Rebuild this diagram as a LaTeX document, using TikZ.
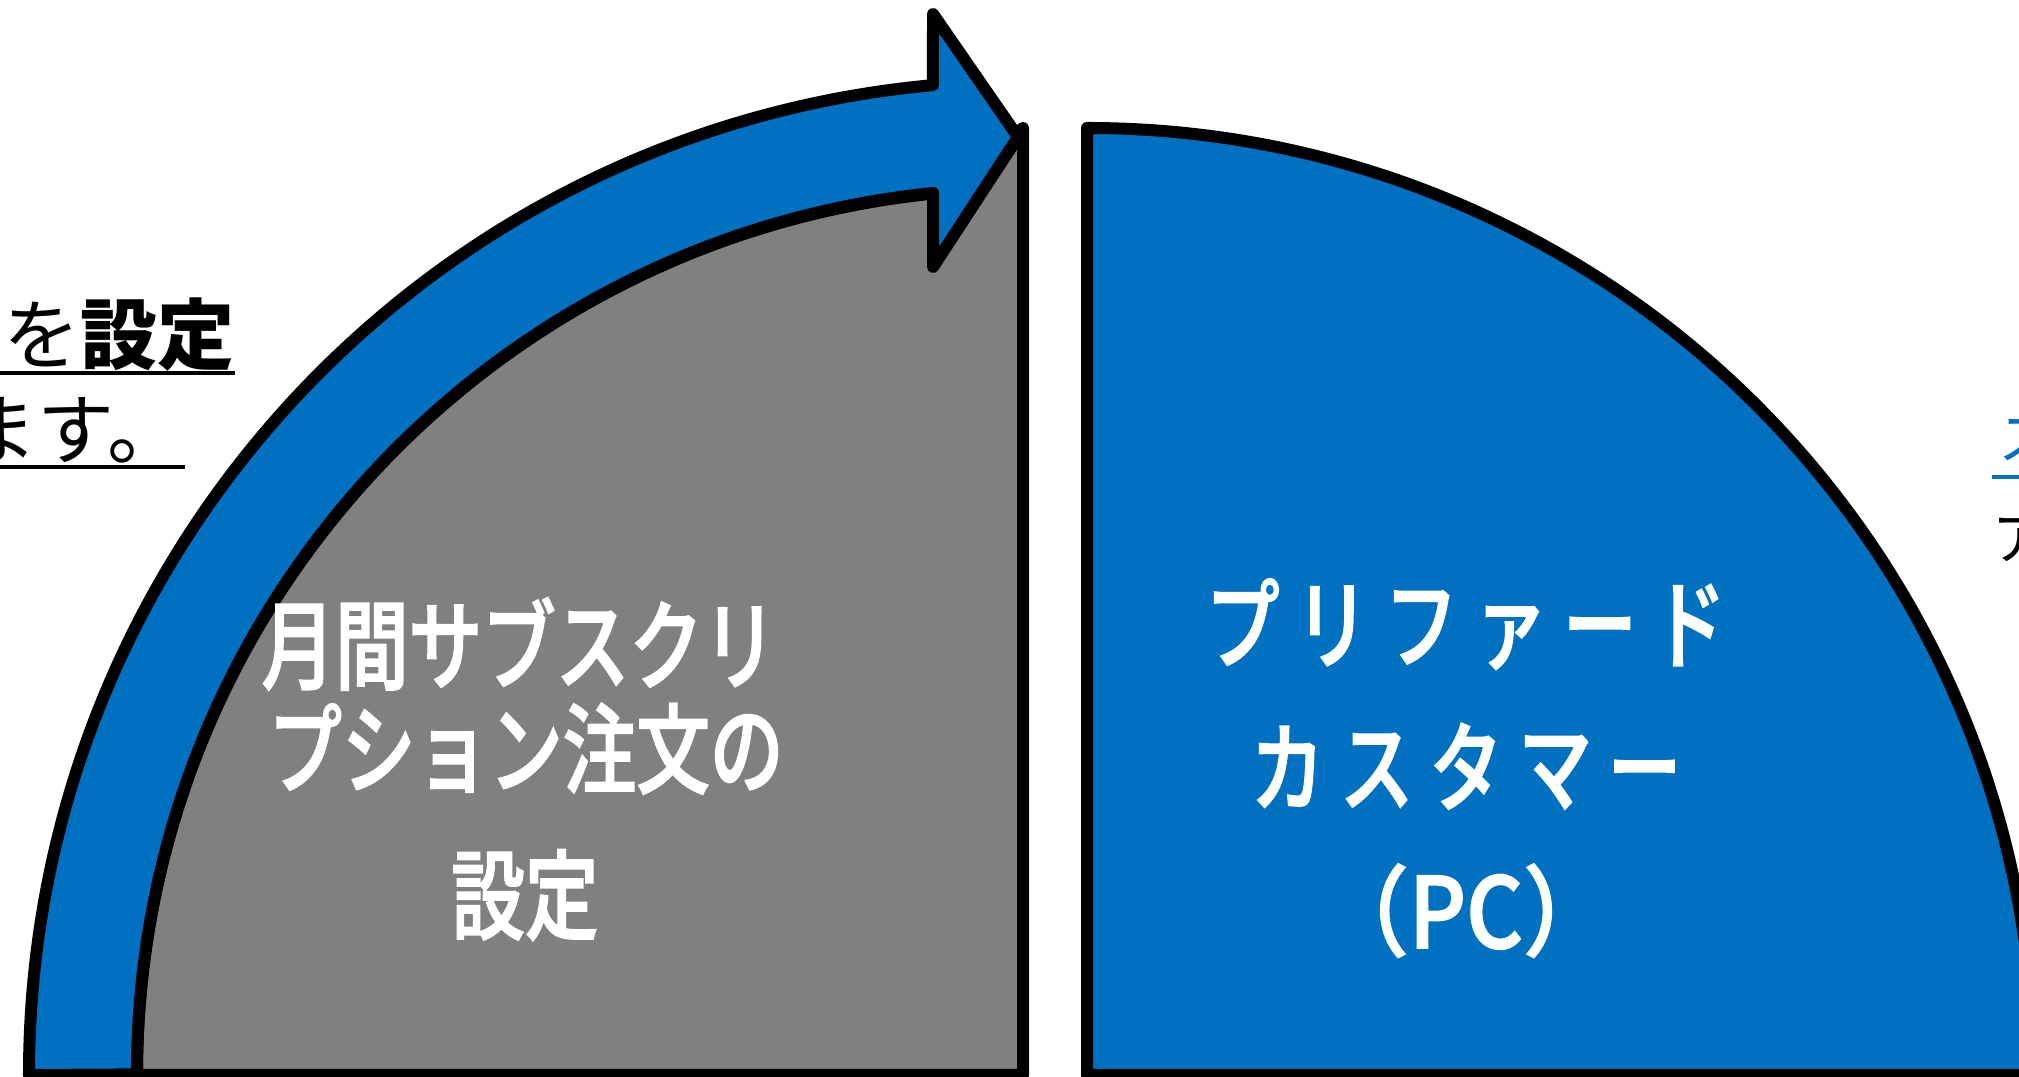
\documentclass[tikz,border=0pt]{standalone}
\usepackage{fontspec}
\usepackage{tikz}

\newfontfamily\jpthin{Noto Sans CJK JP}
\newfontfamily\jpnarrow[FakeStretch=0.75,FakeBold=1.6]{Noto Sans CJK JP Medium}
\newfontfamily\jpwide[FakeStretch=0.75,FakeBold=1.6,LetterSpace=16]{Noto Sans CJK JP Medium}
\newfontfamily\jppc[FakeStretch=0.9,FakeBold=1.6]{Noto Sans CJK JP Medium}
\definecolor{pcblue}{RGB}{0,112,192}
\definecolor{boxgray}{RGB}{128,128,128}

\begin{document}
\begin{tikzpicture}[x=0.01cm,y=0.01cm,
  outline/.style={line width=0.12cm,line join=round,draw=black},
  bigtext/.style={text=white,inner sep=0,font={\jpnarrow\fontsize{27.9pt}{33pt}\selectfont}},
  widetext/.style={text=white,inner sep=0,font={\jpwide\fontsize{27.9pt}{33pt}\selectfont}},
  pctext/.style={text=white,inner sep=0,font={\jppc\fontsize{27.9pt}{33pt}\selectfont}},
  sidetext/.style={inner sep=0,font={\jpthin\fontsize{21.9pt}{26pt}\selectfont}},
  edgetext/.style={inner sep=0,font={\jpthin\fontsize{16.2pt}{19pt}\selectfont}},
  uline/.style={line width=0.035cm}]

\useasboundingbox (0,0) rectangle (2019,1076);
\clip (0,0) rectangle (2019,1076);

% gray order box
\draw[outline,fill=boxgray] (1023,1) -- (137,1) arc[start angle=180,end angle=95.83,radius=886] -- (1023,948) -- cycle;

% curved blue arrow
\draw[outline,fill=pcblue] (29,1) arc[start angle=180,end angle=95.2,radius=994]
  -- (933,1062) -- (1018,939) -- (933,809) -- (933,883)
  arc[start angle=95.83,end angle=180,radius=886] -- cycle;

% blue customer box
\draw[outline,fill=pcblue] (1087,1) -- (1087,948) arc[start angle=90,end angle=0,radius=947] -- cycle;

% order text
\node[bigtext,anchor=base] (order1) at (519,394) {月間サブスクリ};
\node[bigtext,anchor=base] (order2) at (526,290) {プション注文の};
\node[bigtext,anchor=base] (order3) at (525,144) {設定};

% customer text
\node[widetext,anchor=base] (pc1) at (1466,415) {プリファード};
\node[widetext,anchor=base] (pc2) at (1466,272) {カスタマー};
\node[pctext,anchor=base] (pc3) at (1466,128) {（PC）};

% left note
\node[sidetext,anchor=base east] (note1) at (235,712) {を\textbf{設定}};
\draw[uline] (note1.base east) ++(0,-9) -- ++(-260,0);
\node[sidetext,anchor=base east] (note2) at (185,617) {ます。};
\draw[uline] (note2.base east) ++(0,-8) -- ++(-200,0);

% right note
\node[edgetext,text=pcblue,anchor=base west] (link1) at (1998,616) {ス};
\draw[uline,draw=pcblue] (link1.base west) ++(-6,-17) -- ++(60,0);
\node[edgetext,anchor=base west] (link2) at (1992,516) {ア};

\end{tikzpicture}
\end{document}
